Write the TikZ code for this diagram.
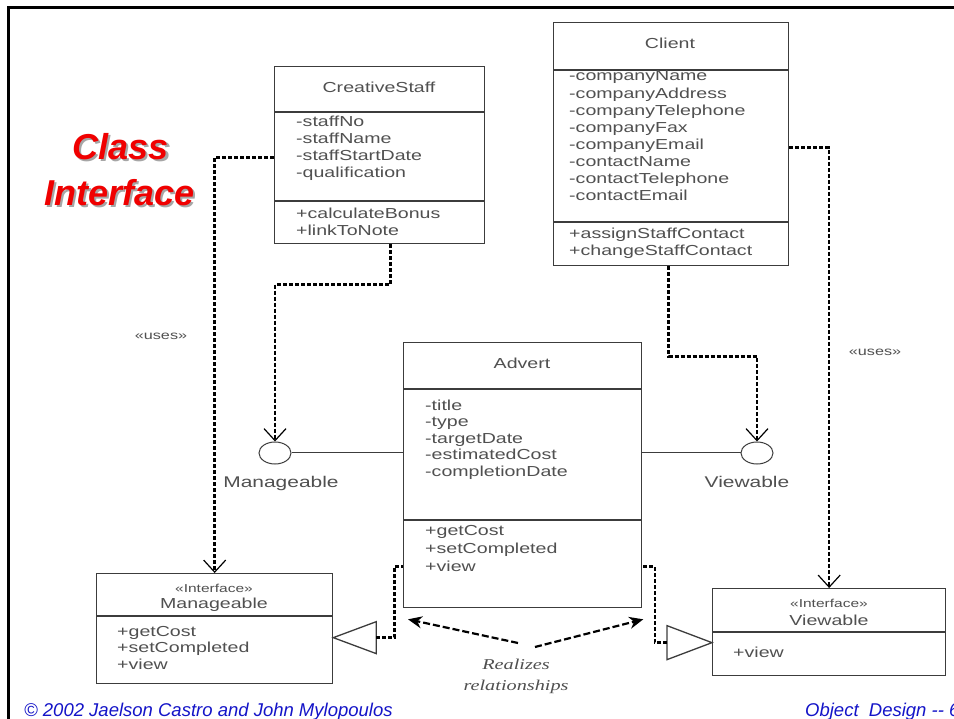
\documentclass[tikz,border=0pt]{standalone}
\usepackage{fontspec}
\setmainfont{Liberation Sans}
\newfontfamily\umlfont[FakeStretch=1.35]{Liberation Sans}
\newfontfamily\umlserif[FakeStretch=1.35]{Liberation Serif}
\usetikzlibrary{arrows.meta,shapes.geometric}
\definecolor{titlered}{RGB}{240,0,0}
\definecolor{footblue}{RGB}{20,20,200}
\definecolor{umlgray}{RGB}{60,60,60}
\definecolor{umltxt}{RGB}{80,80,80}
\begin{document}
\begin{tikzpicture}[x=1pt,y=-1pt,
  umlbox/.style={draw=umlgray, line width=1.3pt, fill=white, inner sep=0pt, anchor=north west},
  sepline/.style={draw=umlgray, line width=1.3pt},
  thinline/.style={draw=umlgray, line width=1pt},
  umlname/.style={text=umltxt, font=\umlfont\fontsize{14.5}{17}\selectfont, inner sep=0pt, anchor=base},
  umltext/.style={text=umltxt, font=\umlfont\fontsize{14.5}{17}\selectfont, inner sep=0pt, align=left, anchor=base west},
  umlops/.style={text=umltxt, font=\umlfont\fontsize{14.5}{18}\selectfont, inner sep=0pt, align=left, anchor=base west},
  stereo/.style={text=umltxt, font=\umlfont\fontsize{11.5}{14}\selectfont, inner sep=0pt, anchor=base},
  lolli/.style={ellipse, draw=umlgray, line width=1pt, minimum width=32pt, minimum height=22pt, inner sep=0pt, fill=white},
  lollilabel/.style={text=umltxt, font=\umlfont\fontsize{15.5}{18}\selectfont, inner sep=0pt, anchor=base},
  uselabel/.style={text=umltxt, font=\umlfont\fontsize{12}{14}\selectfont, inner sep=0pt},
  dep/.style={draw=black, line width=2.6pt, dash pattern=on 4pt off 2pt,
    -{Straight Barb[length=12pt,width=22pt,line width=1.2pt]}},
  plaindep/.style={draw=black, line width=2.6pt, dash pattern=on 4pt off 2pt},
  realize/.style={draw=black, line width=2.2pt, dash pattern=on 7pt off 3pt,
    -{Stealth[length=14pt,width=12pt]}},
  titletext/.style={font=\bfseries\itshape\fontsize{36}{43}\selectfont, inner sep=0pt, anchor=base},
  foot/.style={font=\itshape\fontsize{18.5}{20}\selectfont, text=footblue, inner sep=0pt, anchor=base west}
]
\useasboundingbox (0,0) rectangle (954,719);
\fill[white] (0,0) rectangle (954,719);
% frame
\draw[line width=3pt] (8.5,719) -- (8.5,8) -- (954,8);

% title with shadow
\node[titletext, text=black!35] (t1s) at (123,162) {Class};
\node[titletext, text=black!35] (t2s) at (122,208) {Interface};
\node[titletext, text=titlered] (t1) at (121,160) {Class};
\node[titletext, text=titlered] (t2) at (120,206) {Interface};

% CreativeStaff
\node[umlbox, minimum width=210pt, minimum height=177pt] (cs) at (274,66) {};
\draw[sepline] (cs.west |- 0,112) -- (cs.east |- 0,112);
\draw[sepline] (cs.west |- 0,201) -- (cs.east |- 0,201);
\node[umlname] (csn) at (379,93) {CreativeStaff};
\node[umltext] (csa) at (296,178) {-staffNo\\-staffName\\-staffStartDate\\-qualification};
\node[umltext] (cso) at (296,236) {+calculateBonus\\+linkToNote};

% Client
\node[umlbox, minimum width=235pt, minimum height=243pt] (cl) at (553,22) {};
\draw[sepline] (cl.west |- 0,70) -- (cl.east |- 0,70);
\draw[sepline] (cl.west |- 0,222) -- (cl.east |- 0,222);
\node[umlname] (cln) at (670,49) {Client};
\node[umltext, font=\umlfont\fontsize{14.5}{17.1}\selectfont] (cla) at (569,200.7)
  {-companyName\\-companyAddress\\-companyTelephone\\-companyFax\\-companyEmail\\-contactName\\-contactTelephone\\-contactEmail};
\node[umltext] (clo) at (569,256) {+assignStaffContact\\+changeStaffContact};

% Advert
\node[umlbox, minimum width=238pt, minimum height=265pt] (ad) at (403,342) {};
\draw[sepline] (ad.west |- 0,389) -- (ad.east |- 0,389);
\draw[sepline] (ad.west |- 0,520) -- (ad.east |- 0,520);
\node[umlname] (adn) at (522,369) {Advert};
\node[umltext, font=\umlfont\fontsize{14.5}{16.5}\selectfont] (ada) at (425,476)
  {-title\\-type\\-targetDate\\-estimatedCost\\-completionDate};
\node[umlops] (ado) at (425,571) {+getCost\\+setCompleted\\+view};

% Manageable interface
\node[umlbox, minimum width=236pt, minimum height=110pt] (mi) at (96,573) {};
\draw[sepline] (mi.west |- 0,616) -- (mi.east |- 0,616);
\node[stereo] (mis) at (214,592) {«Interface»};
\node[umlname] (min) at (214,608) {Manageable};
\node[umltext, font=\umlfont\fontsize{14.5}{16.5}\selectfont] (mio) at (117,669) {+getCost\\+setCompleted\\+view};

% Viewable interface
\node[umlbox, minimum width=233pt, minimum height=87pt] (vi) at (712,588) {};
\draw[sepline] (vi.west |- 0,632) -- (vi.east |- 0,632);
\node[stereo] (vis) at (829,607) {«Interface»};
\node[umlname] (vin) at (829,625) {Viewable};
\node[umltext] (vio) at (733,657) {+view};

% lollipops
\node[lolli] (mc) at (275,453) {};
\node[lolli] (vc) at (757,453) {};
\draw[thinline] (mc.east) -- (mc.east -| ad.west);
\draw[thinline] (vc.west) -- (vc.west -| ad.east);
\node[lollilabel] (mcl) at (281,487) {Manageable};
\node[lollilabel] (vcl) at (747,487) {Viewable};

% dependencies to lollipops
\draw[dep] ([xshift=11pt]cs.south) -- ++(0,40) -| (mc.north);
\draw[dep] ([xshift=-2.5pt]cl.south) -- ++(0,90) -| (vc.north);

% uses dependencies
\draw[dep] ([yshift=-2.5pt]cs.west) -| (mi.north);
\draw[dep] ([yshift=-3.5pt]cl.east) -| (vi.north);
\node[uselabel] (u1) at (161,336) {«uses»};
\node[uselabel] (u2) at (875,352) {«uses»};

% realization triangles
\coordinate (tla) at ([yshift=-9pt]mi.east);
\coordinate (tlb) at ([xshift=43pt]tla);
\draw[sepline, fill=white] (tla) -- ([yshift=16pt]tlb) -- ([yshift=-16pt]tlb) -- cycle;
\draw[plaindep] (tlb) -- ++(18,0) |- ([yshift=-91.5pt]ad.west);

\coordinate (tra) at ([yshift=-10.5pt]vi.west);
\coordinate (trb) at ([xshift=-45pt]tra);
\draw[sepline, fill=white] (tra) -- ([yshift=17pt]trb) -- ([yshift=-17pt]trb) -- cycle;
\draw[plaindep] (trb) -- ++(-12,0) |- ([yshift=-91.5pt]ad.east);

% realizes label and arrows
\node[text=umltxt, font=\umlserif\itshape\fontsize{15}{21}\selectfont, align=center, inner sep=0pt] (rel) at (516,676) {Realizes\\relationships};
\coordinate (r1) at (518,643);
\coordinate (r2) at (535,647);
\draw[realize] (r1) -- ([shift={(5pt,-11pt)}]ad.south west);
\draw[realize] (r2) -- ([shift={(1pt,-11pt)}]ad.south east);

% footer
\node[foot] (f1) at (24,716) {© 2002 Jaelson Castro and John Mylopoulos};
\node[foot] (f2) at (805,716) {Object\ \ Design {-}{-} 6};
\end{tikzpicture}
\end{document}
